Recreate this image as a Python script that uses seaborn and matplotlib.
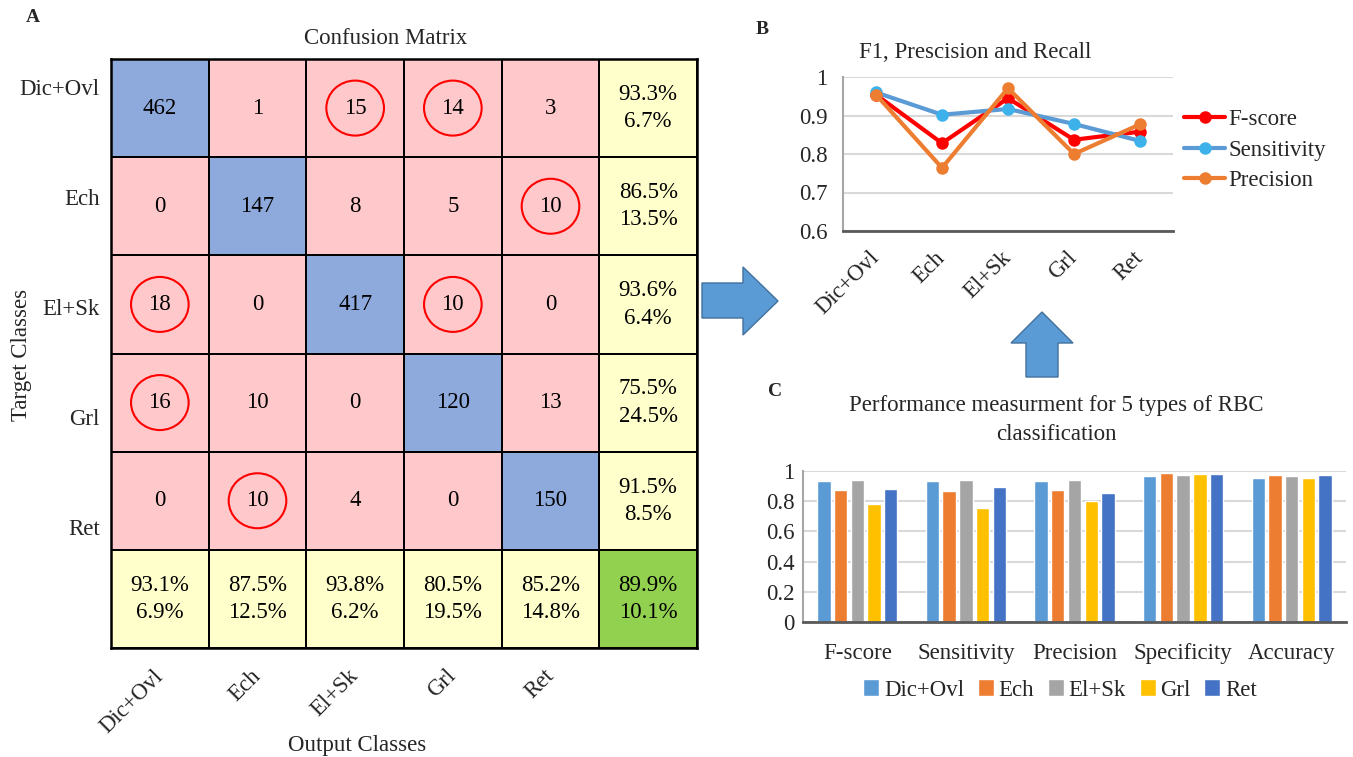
import numpy as np
import pandas as pd
import matplotlib
matplotlib.use("Agg")
import matplotlib.pyplot as plt
import seaborn as sns
from matplotlib.colors import ListedColormap
from matplotlib.patches import Ellipse, Polygon
from matplotlib.lines import Line2D

# ---------------- data ----------------
classes = ["Dic+Ovl", "Ech", "El+Sk", "Grl", "Ret"]
cm_counts = [
    [462, 1, 15, 14, 3],
    [0, 147, 8, 5, 10],
    [18, 0, 417, 10, 0],
    [16, 10, 0, 120, 13],
    [0, 10, 4, 0, 150],
]
row_correct = [93.3, 86.5, 93.6, 75.5, 91.5]
row_error = [6.7, 13.5, 6.4, 24.5, 8.5]
col_correct = [93.1, 87.5, 93.8, 80.5, 85.2]
col_error = [6.9, 12.5, 6.2, 19.5, 14.8]
overall = [89.9, 10.1]
circled = [(0, 2), (0, 3), (1, 4), (2, 0), (2, 3), (3, 0), (4, 1)]

line_metrics = ["F-score", "Sensitivity", "Precision"]
fscore_line = [0.954, 0.828, 0.945, 0.837, 0.858]
sens_line = [0.960, 0.902, 0.917, 0.878, 0.834]
prec_line = [0.954, 0.764, 0.971, 0.800, 0.877]

bar_metrics = ["F-score", "Sensitivity", "Precision", "Specificity", "Accuracy"]
bar_dic = [0.934, 0.934, 0.934, 0.965, 0.954]
bar_ech = [0.873, 0.866, 0.877, 0.985, 0.971]
bar_elsk = [0.938, 0.938, 0.938, 0.976, 0.965]
bar_grl = [0.780, 0.756, 0.802, 0.978, 0.956]
bar_ret = [0.884, 0.897, 0.851, 0.980, 0.974]

# ---------------- style ----------------
sns.set_style("white")
plt.rcParams["font.family"] = ["Liberation Serif", "DejaVu Serif"]
FS = 16.5

W, H = 1353, 757
fig = plt.figure(figsize=(W / 100, H / 100), dpi=100)


def rect(l, t, r, b):
    return [l / W, 1 - b / H, (r - l) / W, (b - t) / H]


def fx(x):
    return x / W


def fy(y):
    return 1 - y / H


# overlay for arrows
ov = fig.add_axes([0, 0, 1, 1])
ov.set_xlim(0, W)
ov.set_ylim(H, 0)
ov.axis("off")
arrow_kw = dict(closed=True, facecolor="#5B9BD5", edgecolor="#41719C", lw=1)
ov.add_patch(Polygon([(702, 283), (743, 283), (743, 267), (778, 301),
                      (743, 335), (743, 318), (702, 318)], **arrow_kw))
ov.add_patch(Polygon([(1042, 312), (1073, 343), (1058, 343), (1058, 377),
                      (1026, 377), (1026, 343), (1011, 343)], **arrow_kw))

# ---------------- Panel A: confusion matrix ----------------
n = len(classes)
cat = np.zeros((n + 1, n + 1))
labels = np.empty((n + 1, n + 1), dtype=object)
for i in range(n):
    for j in range(n):
        cat[i, j] = 1 if i == j else 0
        labels[i, j] = str(cm_counts[i][j])
    cat[i, n] = 2
    labels[i, n] = f"{row_correct[i]:.1f}%\n{row_error[i]:.1f}%"
    cat[n, i] = 2
    labels[n, i] = f"{col_correct[i]:.1f}%\n{col_error[i]:.1f}%"
cat[n, n] = 3
labels[n, n] = f"{overall[0]:.1f}%\n{overall[1]:.1f}%"

cmap = ListedColormap(["#FFC9CB", "#8EA9DB", "#FFFFCC", "#92D050"])
axA = fig.add_axes(rect(111, 59, 697, 648))
sns.heatmap(cat, cmap=cmap, vmin=-0.5, vmax=3.5, annot=labels, fmt="",
            cbar=False, linewidths=1.1, linecolor="black", ax=axA,
            annot_kws=dict(fontsize=FS, color="black", linespacing=1.4))
for s in axA.spines.values():
    s.set_visible(True)
    s.set_linewidth(1.8)
    s.set_color("black")
for (r, c) in circled:
    axA.add_patch(Ellipse((c + 0.5, r + 0.5), 0.59, 0.56, fill=False,
                          edgecolor="red", lw=1.5, zorder=5))
axA.set_xticks([i + 0.5 for i in range(n)])
axA.set_xticklabels(classes, rotation=45, ha="right", va="center",
                    rotation_mode="anchor", fontsize=FS)
ypos = [(p - 59) / 98.2 for p in (90, 200, 310, 420, 530)]
axA.set_yticks(ypos)
axA.set_yticklabels(classes, rotation=0, fontsize=FS)
axA.tick_params(axis="both", length=0)
axA.tick_params(axis="y", pad=8)
axA.tick_params(axis="x", pad=18)
axA.set_xlabel("")
axA.set_ylabel("")

fig.text(fx(386), fy(38), "Confusion Matrix", ha="center", va="center", fontsize=FS)
fig.text(fx(357), fy(745), "Output Classes", ha="center", va="center", fontsize=FS)
fig.text(fx(22), fy(355), "Target Classes", ha="center", va="center",
         rotation=90, fontsize=FS)
fig.text(fx(33), fy(17), "A", ha="center", va="center", fontsize=14, fontweight="bold")

# ---------------- Panel B: line chart ----------------
dfB = pd.DataFrame({
    "cls": classes * 3,
    "metric": np.repeat(line_metrics, n),
    "val": fscore_line + sens_line + prec_line,
})
axB = fig.add_axes(rect(843, 77, 1173, 231))
line_colors = {"F-score": "#FF0000", "Sensitivity": "#5B9BD5", "Precision": "#ED7D31"}
sns.lineplot(data=dfB, x="cls", y="val", hue="metric", hue_order=line_metrics,
             palette=line_colors, marker="o", markersize=9, linewidth=3,
             markeredgewidth=0, sort=False, legend=False, ax=axB)
for ln in axB.get_lines():
    if ln.get_color() == "#5B9BD5":
        ln.set_markerfacecolor("#3DB2EA")
axB.set_xlim(-0.5, n - 0.5)
axB.set_ylim(0.6, 1.0)
axB.set_yticks([0.6, 0.7, 0.8, 0.9, 1.0])
axB.set_yticklabels(["0.6", "0.7", "0.8", "0.9", "1"], fontsize=FS)
axB.yaxis.grid(True, color="#D9D9D9", lw=1.5)
axB.set_axisbelow(True)
axB.set_xlabel("")
axB.set_ylabel("")
for side in ("top", "right"):
    axB.spines[side].set_visible(False)
axB.spines["left"].set_color("#A6A6A6")
axB.spines["left"].set_linewidth(1.5)
axB.spines["bottom"].set_color("#595959")
axB.spines["bottom"].set_linewidth(2)
axB.tick_params(axis="both", length=0)
axB.tick_params(axis="y", pad=11)
axB.tick_params(axis="x", pad=17)
plt.setp(axB.get_xticklabels(), rotation=45, ha="right", va="center",
         rotation_mode="anchor", fontsize=FS)
handlesB = []
for m in line_metrics:
    fc = "#3DB2EA" if m == "Sensitivity" else line_colors[m]
    handlesB.append(Line2D([0], [0], color=line_colors[m], lw=3, marker="o",
                           markersize=9, markerfacecolor=fc, markeredgewidth=0))
fig.legend(handlesB, line_metrics, loc="center left",
           bbox_to_anchor=(fx(1184), fy(150)), frameon=False, fontsize=FS,
           handlelength=1.8, handletextpad=0.12, labelspacing=0.4,
           borderaxespad=0, borderpad=0)
fig.text(fx(975), fy(53), "F1, Prescision and Recall", ha="center", va="center",
         fontsize=FS)
fig.text(fx(762), fy(29), "B", ha="center", va="center", fontsize=14, fontweight="bold")

# ---------------- Panel C: grouped bars ----------------
bar_colors = ["#5B9BD5", "#ED7D31", "#A5A5A5", "#FFC000", "#4472C4"]
dfC = pd.DataFrame({
    "metric": bar_metrics * n,
    "cls": np.repeat(classes, len(bar_metrics)),
    "val": bar_dic + bar_ech + bar_elsk + bar_grl + bar_ret,
})
axC = fig.add_axes(rect(803, 471, 1346, 622))
sns.barplot(data=dfC, x="metric", y="val", hue="cls", hue_order=classes,
            order=bar_metrics, palette=bar_colors, saturation=1, width=0.77,
            gap=0.2, ax=axC)
hC, lC = axC.get_legend_handles_labels()
axC.get_legend().remove()
axC.set_ylim(0, 1)
axC.set_xlim(-0.5, len(bar_metrics) - 0.5)
axC.set_yticks([0, 0.2, 0.4, 0.6, 0.8, 1.0])
axC.set_yticklabels(["0", "0.2", "0.4", "0.6", "0.8", "1"], fontsize=FS)
axC.set_xticklabels(bar_metrics, fontsize=FS)
axC.yaxis.grid(True, color="#D9D9D9", lw=1.5)
axC.set_axisbelow(True)
axC.set_xlabel("")
axC.set_ylabel("")
for side in ("top", "right"):
    axC.spines[side].set_visible(False)
axC.spines["left"].set_color("#A6A6A6")
axC.spines["left"].set_linewidth(1.5)
axC.spines["bottom"].set_color("#595959")
axC.spines["bottom"].set_linewidth(2)
axC.tick_params(axis="both", length=0)
axC.tick_params(axis="y", pad=6)
axC.tick_params(axis="x", pad=15)
fig.legend(hC, lC, loc="center", bbox_to_anchor=(fx(1060), fy(690)), ncol=5,
           frameon=False, fontsize=FS, handlelength=0.7, handleheight=0.7,
           handletextpad=0.2, columnspacing=0.6, borderaxespad=0, borderpad=0)
fig.text(fx(1056), fy(420), "Performance measurment for 5 types of RBC\nclassification",
         ha="center", va="center", fontsize=FS, linespacing=1.45)
fig.text(fx(775), fy(391), "C", ha="center", va="center", fontsize=14, fontweight="bold")

fig.savefig("out.png", dpi=100)
